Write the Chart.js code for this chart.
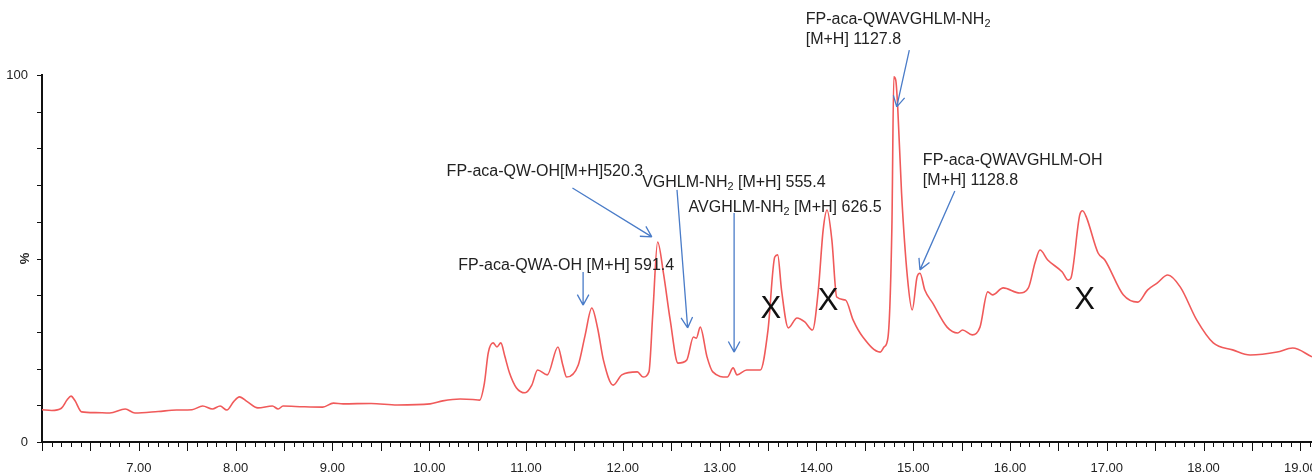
<!DOCTYPE html>
<html>
<head>
<meta charset="utf-8">
<script src="https://cdn.jsdelivr.net/npm/chart.js@4.4.1/dist/chart.umd.min.js"></script>
<style>
  html, body { margin: 0; padding: 0; background: #fff; overflow: hidden; }
  #wrap { width: 1312px; height: 475px; }
</style>
</head>
<body>
<div id="wrap"><canvas id="chart" width="1312" height="475"></canvas></div>
<script>
// Chromatogram trace (retention time in min, relative intensity in %)
const retentionTime = [
    6.00, 6.10, 6.20, 6.26, 6.30, 6.34, 6.41, 6.55, 6.70, 6.86, 6.96, 7.20, 7.39, 7.55, 7.66, 7.76,
    7.84, 7.91, 7.98, 8.04, 8.12, 8.23, 8.38, 8.44, 8.49, 8.70, 8.90, 9.01, 9.11, 9.40, 9.67, 10.01,
    10.14, 10.32, 10.45, 10.52, 10.57, 10.61, 10.66, 10.70, 10.74, 10.78, 10.83, 10.90, 10.99, 11.06,
    11.12, 11.22, 11.33, 11.38, 11.42, 11.54, 11.61, 11.68, 11.74, 11.80, 11.90, 11.99, 12.15, 12.21,
    12.27, 12.31, 12.36, 12.42, 12.49, 12.57, 12.66, 12.73, 12.76, 12.80, 12.87, 12.93, 13.08, 13.14,
    13.18, 13.28, 13.42, 13.50, 13.57, 13.60, 13.64, 13.71, 13.80, 13.88, 13.96, 14.02, 14.07, 14.11,
    14.16, 14.21, 14.30, 14.38, 14.48, 14.66, 14.70, 14.74, 14.78, 14.80, 14.82, 14.84, 14.88, 14.94,
    14.99, 15.04, 15.07, 15.12, 15.20, 15.35, 15.46, 15.51, 15.61, 15.69, 15.77, 15.82, 15.93, 16.10,
    16.19, 16.26, 16.31, 16.39, 16.54, 16.60, 16.63, 16.72, 16.75, 16.79, 16.91, 16.98, 17.17, 17.32,
    17.42, 17.52, 17.63, 17.76, 17.93, 18.10, 18.30, 18.48, 18.76, 18.92, 19.12
];
const intensity = [
    8.8, 8.6, 9.2, 11.5, 12.5, 11.3, 8.2, 8.0, 7.9, 9.0, 7.9, 8.3, 8.7, 8.8, 9.8, 9.0,
    9.8, 8.7, 11.0, 12.3, 11.0, 9.3, 9.8, 9.0, 9.8, 9.6, 9.5, 10.6, 10.4, 10.5, 10.1, 10.4,
    11.2, 11.7, 11.6, 11.4, 16.0, 24.3, 27.0, 25.9, 27.0, 23.5, 18.8, 14.8, 13.4, 15.5,
    19.6, 18.3, 25.9, 21.0, 17.7, 21.0, 29.0, 36.5, 31.0, 22.3, 15.5, 18.3, 19.1, 17.7,
    19.1, 35.0, 54.5, 46.0, 33.2, 21.5, 22.3, 28.6, 28.3, 31.3, 23.2, 19.1, 17.7, 20.2,
    18.3, 19.6, 19.6, 30.5, 50.4, 51.0, 41.4, 31.1, 33.8, 32.7, 30.5, 41.4, 57.8, 63.2,
    55.0, 39.5, 38.7, 33.2, 28.6, 24.5, 25.9, 28.6, 58.6, 99.5, 98.6, 91.3, 67.8, 45.0,
    36.0, 45.0, 46.0, 41.4, 37.9, 31.3, 29.7, 30.5, 29.2, 31.3, 40.9, 40.1, 42.0, 40.6,
    42.0, 49.0, 52.3, 49.6, 46.3, 44.1, 44.7, 61.8, 63.0, 61.2, 51.5, 49.6, 40.1, 38.1,
    41.4, 43.3, 45.5, 42.2, 33.2, 27.0, 25.1, 23.7, 24.5, 25.6, 23.2
];

const xTickValues = [7, 8, 9, 10, 11, 12, 13, 14, 15, 16, 17, 18, 19];
const yTickValues = [0, 50, 100];
const yTickLabels = ['0', '', '100'];
const yAxisTitle = '%';

// Peak labels: text lines ("_2" = subscript 2), text anchor and arrow in data units
const peakNotes = [
    { lines: ['FP-aca-QW-OH[M+H]520.3'], at: [10.18, 73.6], from: [11.48, 69.2], to: [12.30, 55.9] },
    { lines: ['VGHLM-NH_2 [M+H] 555.4'], at: [12.20, 70.6], from: [12.56, 68.7], to: [12.67, 31.1] },
    { lines: ['AVGHLM-NH_2 [M+H] 626.5'], at: [12.68, 64.0], from: [13.15, 62.4], to: [13.15, 24.5] },
    { lines: ['FP-aca-QWA-OH [M+H] 591.4'], at: [10.30, 48.2], from: [11.59, 46.3], to: [11.59, 37.3] },
    { lines: ['FP-aca-QWAVGHLM-NH_2', '[M+H] 1127.8'], at: [13.89, 115.0], from: [14.96, 106.8], to: [14.83, 91.3] },
    { lines: ['FP-aca-QWAVGHLM-OH', '[M+H] 1128.8'], at: [15.10, 76.8], from: [15.43, 68.4], to: [15.07, 46.9] }
];
const crossMarks = [[13.53, 36.0], [14.12, 38.4], [16.77, 38.7]];

const traceColor = '#f05a5a';
const arrowColor = '#4a7cc8';
const textColor = '#222';
const tickFont = "13px 'Liberation Sans', sans-serif";
const noteFont = "Liberation Sans";

// Draws a label line, turning "_2" into a subscript
function drawRichText(ctx, text, x, y, size) {
    const parts = text.split(/_(\d)/);
    let cx = x;
    parts.forEach((p, i) => {
        const sub = i % 2 === 1;
        ctx.font = (sub ? size * 0.68 : size) + 'px ' + noteFont;
        ctx.fillText(p, cx, sub ? y + size * 0.28 : y);
        cx += ctx.measureText(p).width;
    });
}

const decorations = {
    id: 'decorations',
    afterDraw(chart) {
        const ctx = chart.ctx;
        const xs = chart.scales.x;
        const ys = chart.scales.y;
        const area = chart.chartArea;
        ctx.save();

        // minor and major tick marks
        ctx.strokeStyle = '#111';
        ctx.lineWidth = 1;
        ctx.beginPath();
        for (let i = 60; i <= 191; i++) {
            const px = Math.round(xs.getPixelForValue(i / 10)) + 0.5;
            const len = i % 5 === 0 ? 9 : 5;
            ctx.moveTo(px, area.bottom);
            ctx.lineTo(px, area.bottom + len);
        }
        for (let v = 0; v <= 100; v += 10) {
            const py = Math.round(ys.getPixelForValue(v)) + 0.5;
            ctx.moveTo(area.left - 5, py);
            ctx.lineTo(area.left, py);
        }
        ctx.stroke();

        // rotated % on the y axis
        ctx.fillStyle = textColor;
        ctx.font = 'bold ' + tickFont;
        ctx.textAlign = 'center';
        ctx.textBaseline = 'middle';
        ctx.save();
        ctx.translate(area.left - 17, ys.getPixelForValue(50));
        ctx.rotate(-Math.PI / 2);
        ctx.fillText(yAxisTitle, 0, 0);
        ctx.restore();

        // peak labels with arrows
        ctx.textAlign = 'left';
        peakNotes.forEach(n => {
            const tx = xs.getPixelForValue(n.at[0]);
            const ty = ys.getPixelForValue(n.at[1]);
            ctx.fillStyle = textColor;
            n.lines.forEach((line, k) => drawRichText(ctx, line, tx, ty + k * 20, 16));

            const x1 = xs.getPixelForValue(n.from[0]), y1 = ys.getPixelForValue(n.from[1]);
            const x2 = xs.getPixelForValue(n.to[0]), y2 = ys.getPixelForValue(n.to[1]);
            const ang = Math.atan2(y2 - y1, x2 - x1);
            ctx.strokeStyle = arrowColor;
            ctx.lineWidth = 1.3;
            ctx.beginPath();
            ctx.moveTo(x1, y1);
            ctx.lineTo(x2, y2);
            [-0.5, 0.5].forEach(d => {
                ctx.moveTo(x2, y2);
                ctx.lineTo(x2 - 12 * Math.cos(ang + d), y2 - 12 * Math.sin(ang + d));
            });
            ctx.stroke();
        });

        // X marks
        ctx.fillStyle = '#111';
        ctx.font = '31px ' + noteFont;
        ctx.textAlign = 'center';
        crossMarks.forEach(m => {
            ctx.fillText('X', xs.getPixelForValue(m[0]), ys.getPixelForValue(m[1]));
        });
        ctx.restore();
    }
};

new Chart(document.getElementById('chart'), {
    type: 'line',
    data: {
        datasets: [{
            data: retentionTime.map((t, i) => ({ x: t, y: intensity[i] })),
            borderColor: traceColor,
            borderWidth: 1.6,
            pointRadius: 0,
            cubicInterpolationMode: 'monotone',
            fill: false
        }]
    },
    options: {
        responsive: false,
        animation: false,
        layout: { padding: { top: 75, left: 0, right: 0, bottom: 0 } },
        plugins: { legend: { display: false }, tooltip: { enabled: false } },
        scales: {
            x: {
                type: 'linear',
                min: 6.0,
                max: 19.12,
                grid: { display: false, drawTicks: false },
                border: { display: true, color: '#111', width: 2 },
                afterBuildTicks: s => { s.ticks = xTickValues.map(v => ({ value: v })); },
                afterFit: s => { s.height = 33; s.paddingLeft = 0; s.paddingRight = 0; },
                ticks: {
                    autoSkip: false,
                    maxRotation: 0,
                    padding: 19,
                    color: textColor,
                    font: { family: "'Liberation Sans', sans-serif", size: 13 },
                    callback: v => v.toFixed(2)
                }
            },
            y: {
                min: 0,
                max: 100,
                grid: { display: false, drawTicks: false },
                border: { display: true, color: '#111', width: 2 },
                afterBuildTicks: s => { s.ticks = yTickValues.map(v => ({ value: v })); },
                afterFit: s => { s.width = 42; s.paddingTop = 0; s.paddingBottom = 0; },
                ticks: {
                    padding: 14,
                    color: textColor,
                    font: { family: "'Liberation Sans', sans-serif", size: 13 },
                    callback: v => yTickLabels[yTickValues.indexOf(v)]
                }
            }
        }
    },
    plugins: [decorations]
});
</script>
</body>
</html>
